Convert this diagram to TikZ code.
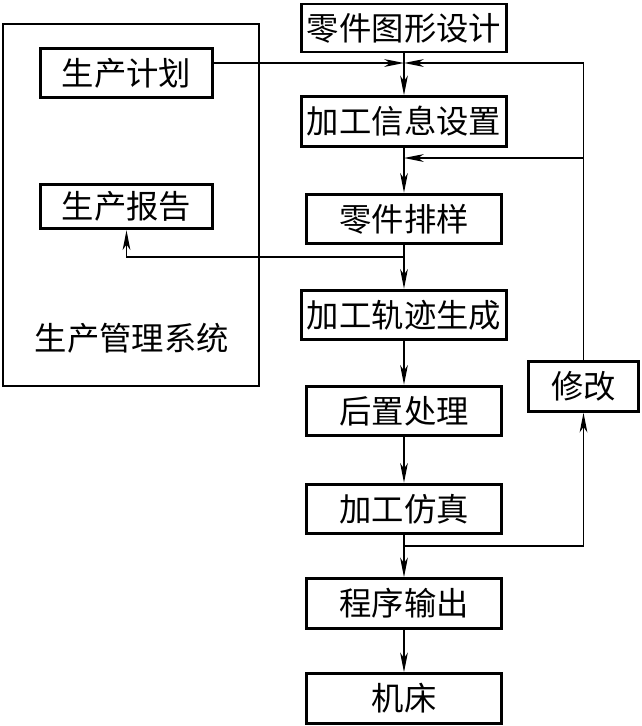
\documentclass[tikz,border=0pt]{standalone}
\usepackage{fontspec}
\newfontfamily\cjk{Noto Sans CJK SC}
\usetikzlibrary{arrows.meta}
\tikzset{
	box/.style={draw,line width=2.1pt,inner sep=0pt,minimum height=1.24cm,font=\cjk\fontsize{23}{26}\selectfont},
	arr/.style={line width=0.8pt,-{Stealth[length=14pt,width=5.5pt,inset=4pt]}}
}
\begin{document}
\begin{tikzpicture}[x=0.025cm,y=-0.025cm]
	\useasboundingbox (0,0) rectangle (641,726);
	\draw [line width=2.1pt] (3,24) rectangle (259,386);
	\node [box,minimum width=4.3cm] (jh) at (126.5,73) {生产计划};
	\node [box,minimum width=4.3cm,minimum height=1.12cm] (bg) at (126.5,206.5) {生产报告};
	\node [font=\cjk\fontsize{23}{26}\selectfont] (gl) at (132,338) {生产管理系统};
	\node [box,minimum width=5.1cm,minimum height=1.2cm] (tx) at (404,28) {零件图形设计};
	\node [box,minimum width=5.1cm] (xx) at (404,121.5) {加工信息设置};
	\node [box,minimum width=4.85cm] (py) at (404,219) {零件排样};
	\node [box,minimum width=5.1cm] (gj) at (404,315) {加工轨迹生成};
	\node [box,minimum width=4.85cm] (hz) at (404,411) {后置处理};
	\node [box,minimum width=4.85cm] (fz) at (404,509) {加工仿真};
	\node [box,minimum width=4.85cm] (sc) at (404,603.5) {程序输出};
	\node [box,minimum width=4.85cm] (jc) at (404,698.5) {机床};
	\node [box,minimum width=2.75cm] (xg) at (583.5,386.5) {修改};
	\coordinate (a) at (404,63);
	\coordinate (b) at (404,158);
	\coordinate (c) at (404,257);
	\coordinate (d) at (404,546);
	\draw [arr] (jh.east |- a) -- (a);
	\draw [arr] (xg.north) |- (a);
	\draw [arr] (xg.north |- b) -- (b);
	\draw [arr] (c) -| (bg.south);
	\draw [arr] (d) -| (xg.south);
	\draw [arr] (tx) -- (xx);
	\draw [arr] (xx) -- (py);
	\draw [arr] (py) -- (gj);
	\draw [arr] (gj) -- (hz);
	\draw [arr] (hz) -- (fz);
	\draw [arr] (fz) -- (sc);
	\draw [arr] (sc) -- (jc);
\end{tikzpicture}
\end{document}
